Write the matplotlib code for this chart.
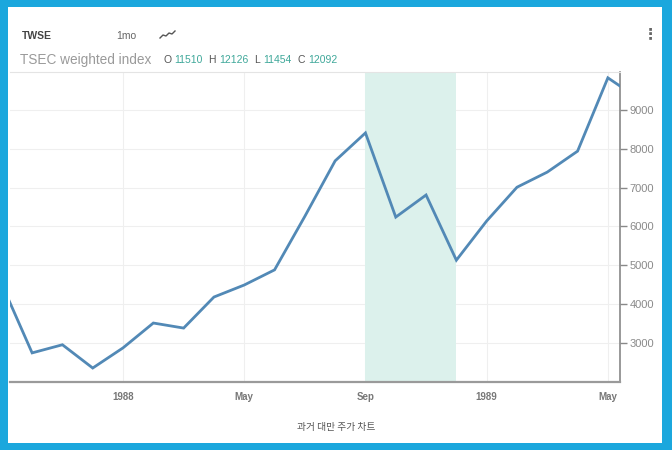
import numpy as np
import matplotlib
matplotlib.use("Agg")
import matplotlib.pyplot as plt
from matplotlib.patches import Rectangle
from matplotlib.lines import Line2D

# monthly closes, Sep 1987 .. Jun 1989
months = ['1987-09', '1987-10', '1987-11', '1987-12',
          '1988-01', '1988-02', '1988-03', '1988-04', '1988-05', '1988-06',
          '1988-07', '1988-08', '1988-09', '1988-10', '1988-11', '1988-12',
          '1989-01', '1989-02', '1989-03', '1989-04', '1989-05', '1989-06']
closes = [4510, 2740, 2950, 2350, 2870, 3510, 3380, 4180, 4490, 4880,
          6260, 7690, 8410, 6240, 6810, 5130, 6140, 7010, 7400, 7940,
          9830, 9300]
tick_months = ['1988-01', '1988-05', '1988-09', '1989-01', '1989-05']
tick_labels = ['1988', 'May', 'Sep', '1989', 'May']
shade_from, shade_to = '1988-09', '1988-12'
y_ticks = [3000, 4000, 5000, 6000, 7000, 8000, 9000]
ohlc = [('O', '11510'), ('H', '12126'), ('L', '11454'), ('C', '12092')]

idx = {m: i for i, m in enumerate(months)}
x = np.arange(len(months))

W, H = 672, 450
fig = plt.figure(figsize=(W / 100, H / 100), dpi=100)
fig.patch.set_facecolor('#1ba7dd')
fig.patches.append(Rectangle((8 / W, 1 - 443 / H), 654 / W, 436 / H,
                             transform=fig.transFigure, facecolor='white',
                             edgecolor='none', zorder=-10))

ax = fig.add_axes([10 / W, 1 - 382 / H, 610 / W, 310 / H])
ax.set_facecolor('none')
ax.axvspan(idx[shade_from], idx[shade_to], color='#dcf1ec', lw=0, zorder=1)
ax.plot(x, closes, color='#5289b6', lw=2, zorder=3, solid_joinstyle='miter')

ax.set_xlim(0.27, 20.4)
ax.set_ylim(1990, 9980)

ax.set_xticks([idx[m] for m in tick_months])
ax.set_xticklabels(tick_labels, fontfamily='Liberation Sans', fontweight='bold',
                   fontsize=7, color='#777777')
ax.set_yticks(y_ticks)
ax.set_yticklabels([str(v) for v in y_ticks], fontfamily='Liberation Sans',
                   fontsize=8, color='#8a8a8a')
ax.yaxis.tick_right()
ax.tick_params(axis='x', length=0, pad=7)
ax.tick_params(axis='y', length=5, width=1, color='#888888', pad=2)

ax.grid(True, color='#efefef', lw=0.8, zorder=0)
ax.set_axisbelow(True)
ax.spines['left'].set_visible(False)
ax.spines['top'].set_color('#e4e4e4')
ax.spines['top'].set_linewidth(0.8)
ax.spines['right'].set_color('#888888')
ax.spines['right'].set_linewidth(1.2)
ax.spines['bottom'].set_color('#9a9a9a')
ax.spines['bottom'].set_linewidth(1.6)

# header
fig.text(22 / W, 1 - 36 / H, 'TWSE', fontfamily='Liberation Sans', fontweight='bold',
         fontsize=7.5, color='#444444', va='center')
fig.text(116 / W, 1 - 36 / H, '1mo', fontfamily='Liberation Sans',
         fontsize=7.5, color='#666666', va='center')
fig.lines.append(Line2D(np.array([160, 163, 166, 169, 172, 175]) / W,
                        1 - np.array([38, 35, 36, 33, 34, 31]) / H,
                        transform=fig.transFigure, color='#555555', lw=1))
fig.text(650 / W, 1 - 34 / H, '\u22ee', fontfamily='DejaVu Sans', fontweight='bold',
         fontsize=11, color='#666666', va='center', ha='center')

fig.text(20 / W, 1 - 60 / H, 'TSEC weighted index', fontfamily='Liberation Sans',
         fontsize=9.8, color='#9a9a9a', va='center')
fig.canvas.draw()
xpos = 163
for lab, val in ohlc:
    t1 = fig.text(xpos / W, 1 - 60 / H, lab, fontfamily='Liberation Sans',
                  fontsize=7.5, color='#555555', va='center')
    fig.canvas.draw()
    xpos += t1.get_window_extent().width + 3
    t2 = fig.text(xpos / W, 1 - 60 / H, val, fontfamily='Liberation Sans',
                  fontsize=7.5, color='#3fa89a', va='center')
    fig.canvas.draw()
    xpos += t2.get_window_extent().width + 6

fig.text(336 / W, 1 - 427 / H, '과거 대만 주가 차트',
         fontfamily=['Noto Sans CJK KR', 'DejaVu Sans'], fontsize=7,
         color='#555555', ha='center', va='center')

fig.savefig('out.png', dpi=100, facecolor=fig.get_facecolor())
